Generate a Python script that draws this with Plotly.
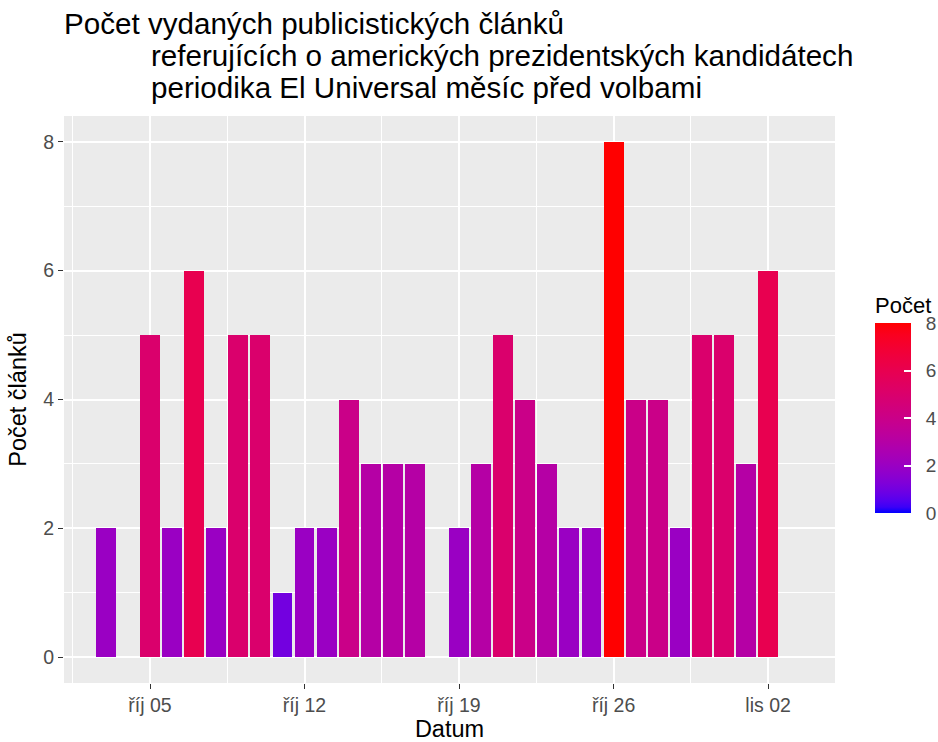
import numpy as np
import plotly.graph_objects as go

# denní počty článků (El Universal, měsíc před volbami 2020)
dates = [
    "2020-10-03", "2020-10-04", "2020-10-05", "2020-10-06", "2020-10-07",
    "2020-10-08", "2020-10-09", "2020-10-10", "2020-10-11", "2020-10-12",
    "2020-10-13", "2020-10-14", "2020-10-15", "2020-10-16", "2020-10-17",
    "2020-10-18", "2020-10-19", "2020-10-20", "2020-10-21", "2020-10-22",
    "2020-10-23", "2020-10-24", "2020-10-25", "2020-10-26", "2020-10-27",
    "2020-10-28", "2020-10-29", "2020-10-30", "2020-10-31", "2020-11-01",
    "2020-11-02",
]
counts = [
    2, 0, 5, 2, 6,
    2, 5, 5, 1, 2,
    2, 4, 3, 3, 3,
    0, 2, 3, 5, 4,
    3, 2, 2, 8, 4,
    4, 2, 5, 5, 3,
    6,
]
tick_dates = ["2020-10-05", "2020-10-12", "2020-10-19", "2020-10-26", "2020-11-02"]
tick_labels = ["říj 05", "říj 12", "říj 19", "říj 26", "lis 02"]
legend_ticks = [0, 2, 4, 6, 8]

TITLE_LINES = [
    "Počet vydaných publicistických článků",
    "referujících o amerických prezidentských kandidátech",
    "periodika El Universal měsíc před volbami",
]
FONT = "Liberation Sans, Arial, sans-serif"


def _to_lab(rgb):
    c = np.array(rgb, dtype=float) / 255
    c = np.where(c <= 0.04045, c / 12.92, ((c + 0.055) / 1.055) ** 2.4)
    m = np.array([[0.4124, 0.3576, 0.1805], [0.2126, 0.7152, 0.0722], [0.0193, 0.1192, 0.9505]])
    xyz = m @ c / np.array([0.95047, 1.0, 1.08883])
    f = np.where(xyz > 0.008856, np.cbrt(xyz), 7.787 * xyz + 16 / 116)
    return np.array([116 * f[1] - 16, 500 * (f[0] - f[1]), 200 * (f[1] - f[2])])


def _from_lab(lab):
    fy = (lab[0] + 16) / 116
    f = np.array([fy + lab[1] / 500, fy, fy - lab[2] / 200])
    xyz = np.where(f ** 3 > 0.008856, f ** 3, (f - 16 / 116) / 7.787) * np.array([0.95047, 1.0, 1.08883])
    m = np.array([[3.2406, -1.5372, -0.4986], [-0.9689, 1.8758, 0.0415], [0.0557, -0.2040, 1.0570]])
    c = np.clip(m @ xyz, 0, 1)
    c = np.where(c <= 0.0031308, 12.92 * c, 1.055 * c ** (1 / 2.4) - 0.055)
    r, g, b = np.round(np.clip(c, 0, 1) * 255).astype(int)
    return f"rgb({r},{g},{b})"


def lab_gradient(low, high, n=33):
    # jako scale_fill_gradient v ggplot2: interpolace v CIELAB
    a, b = _to_lab(low), _to_lab(high)
    return [[i / (n - 1), _from_lab(a + (b - a) * i / (n - 1))] for i in range(n)]


fig = go.Figure()
fig.add_bar(
    x=dates,
    y=counts,
    width=0.9 * 86400000,
    marker=dict(
        color=counts,
        colorscale=lab_gradient((0, 0, 255), (255, 0, 0)),
        cmin=0,
        cmax=8,
        line=dict(width=0),
        colorbar=dict(
            title=dict(text="Počet", side="top", font=dict(size=22, color="black")),
            tickvals=legend_ticks,
            ticktext=["\u00a0\u00a0" + str(v) for v in legend_ticks],
            ticks="inside",
            tickcolor="white",
            ticklen=7,
            tickwidth=1.5,
            tickfont=dict(size=19, color="#4D4D4D"),
            thickness=36,
            len=220,
            lenmode="pixels",
            x=1.052,
            xanchor="left",
            xpad=0,
            y=0.2998,
            yanchor="bottom",
            ypad=0,
            outlinewidth=0,
        ),
    ),
    hovertemplate="%{x|%d.%m.}: %{y}<extra></extra>",
)

title_x = [-0.003, 0.110, 0.110]
title_y = [1.164, 1.107, 1.051]
for text, tx, ty in zip(TITLE_LINES, title_x, title_y):
    fig.add_annotation(
        text=text, xref="paper", yref="paper", x=tx, y=ty,
        xanchor="left", yanchor="middle", showarrow=False,
        font=dict(size=29.6, color="black"),
    )

fig.update_layout(
    width=938,
    height=742,
    margin=dict(l=64, r=103, t=116, b=59, autoexpand=False),
    paper_bgcolor="white",
    plot_bgcolor="#EBEBEB",
    font=dict(family=FONT, color="black"),
    showlegend=False,
    bargap=0,
)
fig.update_xaxes(
    type="date",
    range=["2020-10-01 02:30", "2020-11-05 00:45"],
    tickvals=tick_dates,
    ticktext=tick_labels,
    ticks="outside",
    ticklen=5,
    tickwidth=1.2,
    tickcolor="#333333",
    tickfont=dict(size=19.5, color="#4D4D4D"),
    showgrid=True,
    gridcolor="white",
    gridwidth=1.6,
    minor=dict(tick0="2020-10-01 12:00", dtick=7 * 86400000, showgrid=True, gridcolor="white", gridwidth=0.8),
    zeroline=False,
    showline=False,
    automargin=False,
    title=dict(text="Datum", font=dict(size=23.5, color="black"), standoff=6),
)
fig.update_yaxes(
    range=[-0.4, 8.4],
    tick0=0,
    dtick=2,
    ticks="outside",
    ticklen=5,
    tickwidth=1.2,
    tickcolor="#333333",
    tickfont=dict(size=19.5, color="#4D4D4D"),
    showgrid=True,
    gridcolor="white",
    gridwidth=1.6,
    minor=dict(dtick=1, showgrid=True, gridcolor="white", gridwidth=0.8),
    zeroline=False,
    showline=False,
    automargin=False,
    title=dict(text="Počet článků", font=dict(size=23.5, color="black"), standoff=10),
)

# bez okraje stránky, aby graf začínal v levém horním rohu
fig.write_html(
    "out.html",
    config={"displayModeBar": False},
    post_script="document.body.style.margin = '0';",
)
